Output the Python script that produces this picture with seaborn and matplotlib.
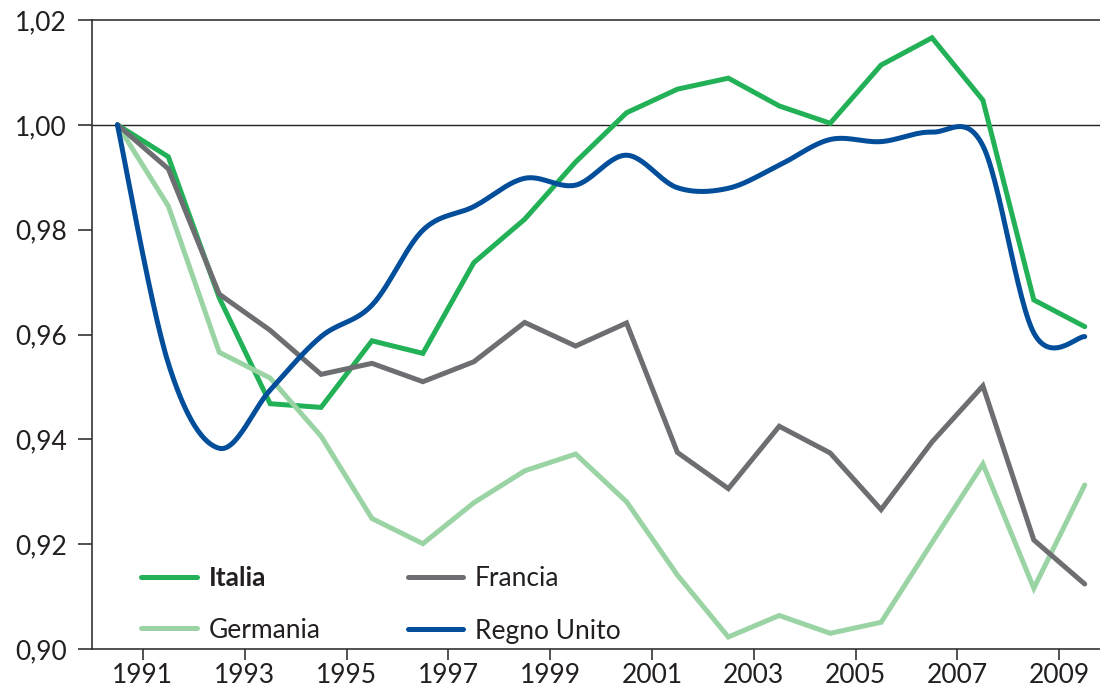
import numpy as np
import pandas as pd
import matplotlib
matplotlib.use("Agg")
import matplotlib.pyplot as plt
from matplotlib.ticker import FuncFormatter
import seaborn as sns

years = list(range(1990, 2010))
italia = [1.000, 0.9939, 0.9670, 0.9468, 0.9461, 0.9588, 0.9564, 0.9737, 0.9820, 0.9929,
          1.0023, 1.0068, 1.0089, 1.0036, 1.0003, 1.0114, 1.0166, 1.0047, 0.9666, 0.9615]
francia = [1.000, 0.9916, 0.9677, 0.9608, 0.9524, 0.9545, 0.9510, 0.9548, 0.9623, 0.9578,
           0.9622, 0.9375, 0.9306, 0.9425, 0.9374, 0.9266, 0.9395, 0.9502, 0.9208, 0.9124]
germania = [1.000, 0.9845, 0.9566, 0.9517, 0.9406, 0.9249, 0.9201, 0.9279, 0.9340, 0.9372,
            0.9281, 0.9141, 0.9023, 0.9064, 0.9030, 0.9051, 0.9203, 0.9353, 0.9116, 0.9313]
regno_unito = [1.000, 0.9545, 0.9383, 0.9494, 0.9596, 0.9656, 0.9799, 0.9844, 0.9898, 0.9885,
               0.9942, 0.9880, 0.9879, 0.9923, 0.9972, 0.9968, 0.9986, 0.9960, 0.9603, 0.9596]
tick_years = [1991, 1993, 1995, 1997, 1999, 2001, 2003, 2005, 2007, 2009]
y_ticks = [0.90, 0.92, 0.94, 0.96, 0.98, 1.00, 1.02]

colors = {"Italia": "#23B157", "Francia": "#6D6E71",
          "Germania": "#9BD4A4", "Regno Unito": "#024E9A"}


def smooth(xs, ys, n=30):
    """Excel-style smoothed line (Catmull-Rom Bezier) for drawing."""
    xs = np.asarray(xs, float)
    ys = np.asarray(ys, float)
    P = np.column_stack([xs, ys])
    Pext = np.vstack([P[0], P, P[-1]])
    out = []
    t = np.linspace(0, 1, n)[:, None]
    for i in range(len(P) - 1):
        p0, p1, p2, p3 = Pext[i], Pext[i + 1], Pext[i + 2], Pext[i + 3]
        c1 = p1 + (p2 - p0) / 6
        c2 = p2 - (p3 - p1) / 6
        seg = ((1 - t) ** 3) * p1 + 3 * ((1 - t) ** 2) * t * c1 + 3 * (1 - t) * t ** 2 * c2 + t ** 3 * p2
        out.append(seg if i == 0 else seg[1:])
    out = np.vstack(out)
    return out[:, 0], out[:, 1]


sns.set_style("ticks")
plt.rcParams["font.family"] = ["Lato", "DejaVu Sans"]

fig = plt.figure(figsize=(11, 6.89), dpi=100)
ax = fig.add_axes([0.0836, 0.058, 0.9164, 0.913])

xpos = np.array(years) + 0.5
lw = 3.6
sns.lineplot(x=xpos, y=italia, color=colors["Italia"], lw=lw, label="Italia", ax=ax,
             solid_capstyle="round", solid_joinstyle="miter")
sns.lineplot(x=xpos, y=germania, color=colors["Germania"], lw=lw, label="Germania", ax=ax,
             solid_capstyle="round", solid_joinstyle="miter")
sns.lineplot(x=xpos, y=francia, color=colors["Francia"], lw=lw, label="Francia", ax=ax,
             solid_capstyle="round", solid_joinstyle="miter")
sx, sy = smooth(xpos, regno_unito)
sns.lineplot(x=sx, y=sy, color=colors["Regno Unito"], lw=lw, label="Regno Unito", ax=ax,
             sort=False, estimator=None, solid_capstyle="round")

ax.axhline(1.0, color="#222222", lw=1.0, zorder=0)

ax.set_xlim(1990, 2009.8)
ax.set_ylim(0.90, 1.02)
ax.set_xticks(tick_years)
ax.set_xticklabels([str(y) for y in tick_years])
ax.set_yticks(y_ticks)
ax.yaxis.set_major_formatter(FuncFormatter(lambda v, p: f"{v:.2f}".replace(".", ",")))

for s in ["left", "bottom", "top"]:
    ax.spines[s].set_color("#333333")
    ax.spines[s].set_linewidth(1.2)
ax.spines["right"].set_visible(False)
ax.tick_params(axis="both", colors="#333333", labelcolor="#231F20", labelsize=19,
               width=1.2)
ax.tick_params(axis="y", length=10, pad=8)
ax.tick_params(axis="x", length=8, pad=2)
ax.set_xlabel("")
ax.set_ylabel("")

leg = ax.legend(ncol=2, loc="lower left", bbox_to_anchor=(0.028, -0.025), frameon=False,
                fontsize=19, handlelength=2.1, handletextpad=0.45, columnspacing=3.3,
                labelspacing=1.05, borderaxespad=0.4)
for t in leg.get_texts():
    t.set_color("#231F20")
leg.get_texts()[0].set_fontweight("bold")

fig.savefig("out.png", dpi=100)
